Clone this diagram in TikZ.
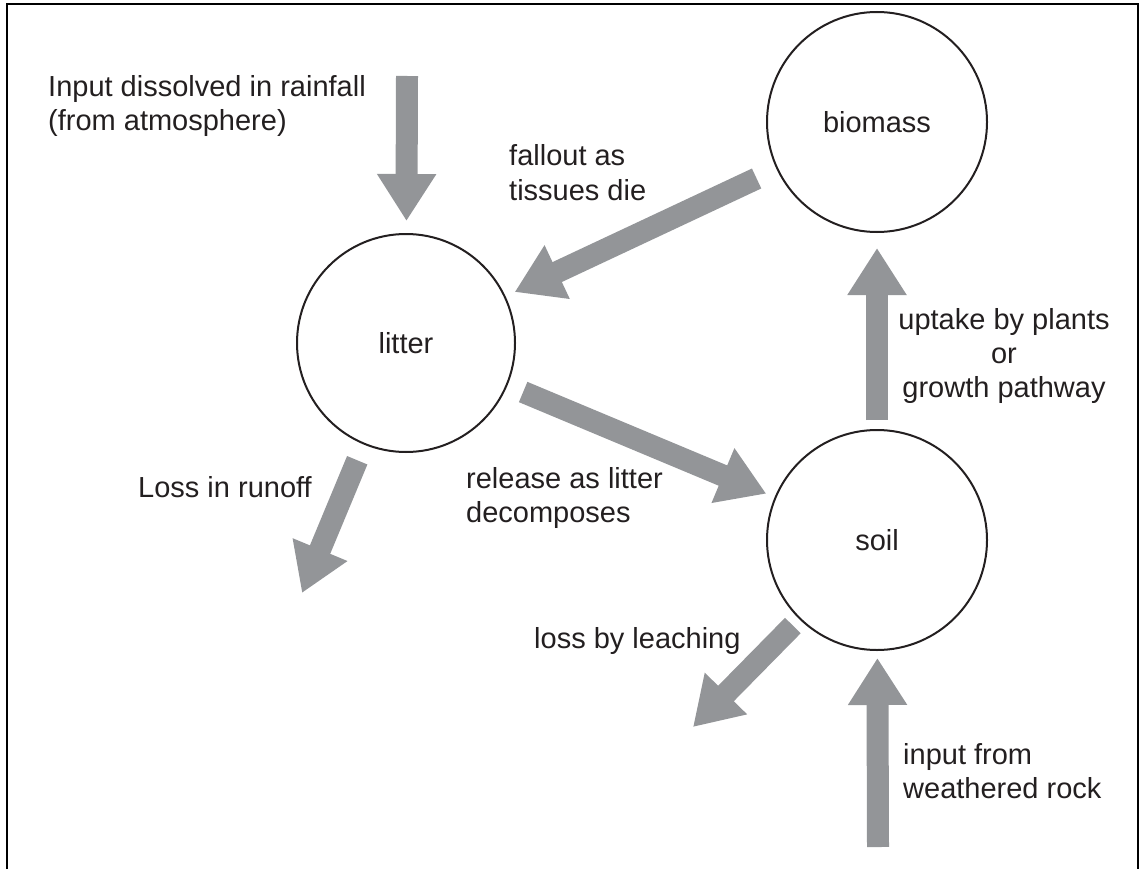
\documentclass[tikz,border=0pt]{standalone}
\usepackage{fontspec}
\setmainfont{Liberation Sans}
\usetikzlibrary{arrows.meta}
\definecolor{flowgrey}{HTML}{939598}
\definecolor{ink}{HTML}{231F20}
\begin{document}
\begin{tikzpicture}[x=1pt,y=-1pt,
  pool/.style={circle,draw=ink,line width=2pt,minimum size=220pt,inner sep=0pt,
    font=\fontsize{29}{34}\selectfont,text=ink},
  lbl/.style={font=\fontsize{29}{34}\selectfont,text=ink,inner sep=0pt,align=left},
  flow/.style={draw=flowgrey,line width=22pt,-{Triangle[length=47pt,width=56pt]}}]
\useasboundingbox (0,0) rectangle (1139,869);
\draw[line width=2pt] (7,869) -- (7,4.5) -- (1137.5,4.5) -- (1137.5,869);
% pools
\node[pool] (biomass) at (877,122) {biomass};
\node[pool,minimum size=218pt] (litter) at (406,343) {litter};
\node[pool] (soil) at (877,540) {soil};
% free ends
\coordinate (rainS) at (407,76);
\coordinate (runE) at (302,593);
\coordinate (leachE) at (693,727);
\coordinate (rockS) at (878,847);
% flows
\draw[flow,shorten >=12pt] (rainS) -- (litter);
\draw[flow,shorten <=22pt,shorten >=10pt] (biomass) -- (litter);
\draw[flow,shorten <=17pt,shorten >=9pt] (litter) -- (soil);
\draw[flow,shorten <=9pt,shorten >=15pt] (soil) -- (biomass);
\draw[flow,shorten <=17pt] (litter) -- (runE);
\draw[flow,shorten <=9pt] (soil) -- (leachE);
\draw[flow,shorten >=7pt] (rockS) -- (soil);
% labels (base anchor = baseline of the last line)
\node[lbl,anchor=base west] (rainT) at (48,131) {Input dissolved in rainfall\\(from atmosphere)};
\node[lbl,anchor=base west] (fallT) at (509,200) {fallout as\\tissues die};
\node[lbl,anchor=base west] (relT) at (466,522) {release as litter\\decomposes};
\node[lbl,align=center,anchor=base] (upT) at (1004,397) {uptake by plants\\or\\growth pathway};
\node[lbl,anchor=base west] (runT) at (138,497) {Loss in runoff};
\node[lbl,anchor=base west] (leachT) at (534,648) {loss by leaching};
\node[lbl,anchor=base west] (rockT) at (903,798) {input from\\weathered rock};
\end{tikzpicture}
\end{document}
